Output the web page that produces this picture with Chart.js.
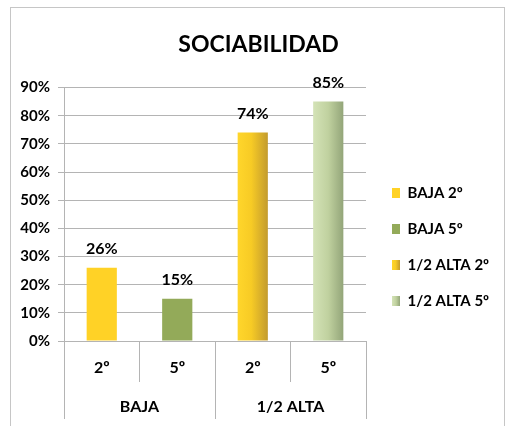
<!DOCTYPE html>
<html><head><meta charset="utf-8">
<script src="https://cdn.jsdelivr.net/npm/chart.js@4.4.1/dist/chart.umd.min.js"></script>
<style>html,body{margin:0;padding:0;background:#fff;} canvas{display:block;}</style>
</head><body>
<canvas id="c" width="507" height="426"></canvas>
<script>
const chartTitle = 'SOCIABILIDAD';
const categories = ['2º', '5º', '2º', '5º'];
const groups = ['BAJA', '1/2 ALTA'];
const seriesNames = ['BAJA 2º', 'BAJA 5º', '1/2 ALTA 2º', '1/2 ALTA 5º'];
const baja2 = [26, null, null, null];
const baja5 = [null, 15, null, null];
const alta2 = [null, null, 74, null];
const alta5 = [null, null, null, 85];
const yMin = 0, yMax = 90, yStep = 10;

const FONT = 'Lato';
const BAR_PCT = 0.4;
const yellowStops = [[0, '#FFD62B'], [0.45, '#F7CB25'], [1, '#C39B2E']];
const greenStops = [[0, '#D4E3B7'], [0.5, '#C0D19F'], [1, '#93A579']];

function makeGrad(ctx, x0, x1, stops) {
  if (!isFinite(x0) || !isFinite(x1) || x1 <= x0) return stops[0][1];
  const g = ctx.createLinearGradient(x0, 0, x1, 0);
  stops.forEach(s => g.addColorStop(s[0], s[1]));
  return g;
}
function barGradient(stops) {
  return (c) => {
    const chart = c.chart, xs = chart.scales && chart.scales.x;
    if (!xs || c.type !== 'data' || !isFinite(xs.width) || xs.width <= 0) return stops[0][1];
    const cx = xs.getPixelForValue(c.dataIndex);
    const half = xs.width / categories.length * BAR_PCT / 2;
    return makeGrad(chart.ctx, cx - half, cx + half, stops);
  };
}

const gradStops = [null, null, yellowStops, greenStops];

const borderPlugin = {
  id: 'frame',
  beforeDraw(chart) {
    const ctx = chart.ctx;
    ctx.save();
    ctx.fillStyle = '#fff';
    ctx.fillRect(0, 0, chart.width, chart.height);
    ctx.strokeStyle = '#C6C6C6';
    ctx.lineWidth = 1;
    ctx.strokeRect(10.5, 7.5, 494, 440);
    ctx.restore();
  }
};

const LEGEND_DX = 5, LEGEND_DY = 37.5;
const legendPlugin = {
  id: 'legendTweak',
  beforeLayout(chart) {
    const lg = chart.legend;
    if (lg && !lg._fixedWidth) {
      const f = lg.fit;
      lg.fit = function () { f.call(this); this.width = 507 - 366; };
      lg._fixedWidth = true;
    }
  },
  afterLayout(chart) {
    const lg = chart.legend;
    if (!lg) return;
    lg.left += LEGEND_DX; lg.right += LEGEND_DX;
    lg.top += LEGEND_DY; lg.bottom += LEGEND_DY;
  }
};

const valueLabels = {
  id: 'valueLabels',
  afterDatasetsDraw(chart) {
    const ctx = chart.ctx;
    ctx.save();
    ctx.font = 'bold 16px ' + FONT;
    ctx.fillStyle = '#000';
    ctx.textAlign = 'center';
    ctx.textBaseline = 'alphabetic';
    chart.data.datasets.forEach((ds, i) => {
      const meta = chart.getDatasetMeta(i);
      meta.data.forEach((el, j) => {
        const v = ds.data[j];
        if (v === null || v === undefined) return;
        ctx.fillText(v + '%', el.x, el.y - 14);
      });
    });
    ctx.restore();
  }
};

new Chart(document.getElementById('c'), {
  type: 'bar',
  data: {
    labels: categories,
    datasets: [
      { label: seriesNames[0], data: baja2, backgroundColor: '#FFD226' },
      { label: seriesNames[1], data: baja5, backgroundColor: '#93AA59' },
      { label: seriesNames[2], data: alta2, backgroundColor: barGradient(yellowStops) },
      { label: seriesNames[3], data: alta5, backgroundColor: barGradient(greenStops) }
    ]
  },
  options: {
    responsive: false,
    animation: false,
    devicePixelRatio: 1,
    skipNull: true,
    layout: { padding: { left: 10, right: 0, top: 0, bottom: 7 } },
    datasets: { bar: { barPercentage: BAR_PCT, categoryPercentage: 1, borderWidth: 0 } },
    plugins: {
      tooltip: { enabled: false },
      title: {
        display: true, text: chartTitle, color: '#000',
        font: { family: FONT, size: 23, weight: 'bold', lineHeight: 1.2 },
        padding: { top: 30.5, bottom: 29.4 }
      },
      legend: {
        position: 'right',
        labels: {
          color: '#000',
          font: { family: FONT, size: 15, weight: 'bold' },
          boxWidth: 8, boxHeight: 10, padding: 21,
          generateLabels(chart) {
            const items = Chart.defaults.plugins.legend.labels.generateLabels(chart);
            const lg = chart.legend;
            items.forEach((it) => {
              it.lineWidth = 0;
              it.strokeStyle = 'rgba(0,0,0,0)';
              const st = gradStops[it.datasetIndex];
              if (st) {
                const x0 = lg ? lg.left + 21 : NaN;
                it.fillStyle = makeGrad(chart.ctx, x0, x0 + 8, st);
              }
            });
            return items;
          }
        }
      }
    },
    scales: {
      y: {
        min: yMin, max: yMax,
        afterFit(s) { s.width = 54; },
        ticks: { stepSize: yStep, padding: 8, color: '#000',
          font: { family: FONT, size: 15, weight: 'bold' },
          callback: v => v + '%' },
        grid: { color: '#B4B4B4', tickLength: 6, drawTicks: true },
        border: { display: true, color: '#B4B4B4' }
      },
      x: {
        weight: 0,
        offset: true,
        afterFit(s) { s.height = 41; },
        ticks: { padding: -24, color: '#000', maxRotation: 0, autoSkip: false,
          font: { family: FONT, size: 16, weight: 'bold' } },
        grid: { offset: true, drawOnChartArea: false, tickLength: 41, color: '#B4B4B4' },
        border: { display: false }
      },
      x2: {
        type: 'category', labels: groups, position: 'bottom', weight: 1,
        offset: true,
        afterFit(s) { s.height = 37; },
        ticks: { padding: -21.5, color: '#000', maxRotation: 0, autoSkip: false,
          font: { family: FONT, size: 16, weight: 'bold' } },
        grid: { offset: true, drawOnChartArea: false, tickLength: 37, color: '#B4B4B4' },
        border: { display: false }
      }
    }
  },
  plugins: [borderPlugin, legendPlugin, valueLabels]
});
</script>
</body></html>
